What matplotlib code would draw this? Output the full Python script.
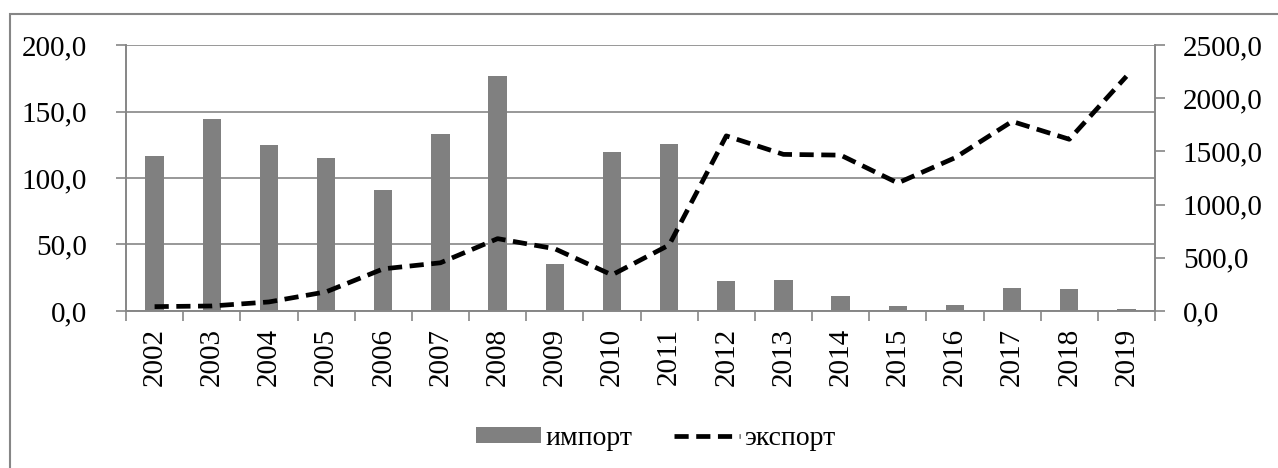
import matplotlib.pyplot as plt
from matplotlib.patches import Rectangle
from matplotlib.ticker import FuncFormatter, MultipleLocator
import numpy as np

years = [str(y) for y in range(2002, 2020)]
imports = [116.5, 144.6, 124.8, 114.7, 91.1, 132.9, 176.7, 35.2, 119.2,
           125.3, 22.3, 23.5, 10.9, 3.5, 4.8, 17.0, 16.5, 1.8]
exports = [41, 47, 85, 180, 396, 453, 680, 585, 339,
           620, 1646, 1472, 1465, 1203, 1440, 1782, 1614, 2206]

plt.rcParams['font.family'] = ['Liberation Serif', 'DejaVu Serif']
plt.rcParams['font.size'] = 21

fig = plt.figure(figsize=(12.78, 4.68), dpi=100)
ax = fig.add_axes([0.0986, 0.3355, 0.8052, 0.5683])
ax2 = ax.twinx()

grey = '#868686'
x = np.arange(len(years))

ax.set_axisbelow(True)
ax.yaxis.grid(True, color=grey, linewidth=1.2)
ax.bar(x, imports, width=0.32, color='#808080', label='импорт', zorder=2)
ax2.plot(x, exports, color='black', linewidth=3.4, dashes=(3.0, 1.6),
         label='экспорт', zorder=3)

ax.set_xlim(-0.5, len(years) - 0.5)
ax.set_ylim(0, 200)
ax2.set_ylim(0, 2500)
ax.yaxis.set_major_locator(MultipleLocator(50))
ax2.yaxis.set_major_locator(MultipleLocator(500))

fmt = FuncFormatter(lambda v, p: f'{v:.1f}'.replace('.', ','))
ax.yaxis.set_major_formatter(fmt)
ax2.yaxis.set_major_formatter(fmt)

ax.set_xticks(x)
ax.set_xticklabels(years, rotation=90)
ax.set_xticks(np.arange(-0.5, len(years)), minor=True)
ax.tick_params(axis='x', which='major', length=0, pad=12)
ax.tick_params(axis='x', which='minor', length=7, color=grey, width=1.2)
ax.tick_params(axis='y', length=7, color=grey, width=1.2, pad=21)
ax2.tick_params(axis='y', length=7, color=grey, width=1.2, pad=13)

for a in (ax, ax2):
    a.spines['top'].set_visible(False)
    for s in ('left', 'right', 'bottom'):
        a.spines[s].set_color(grey)
        a.spines[s].set_linewidth(1.2)

h1, l1 = ax.get_legend_handles_labels()
h2, l2 = ax2.get_legend_handles_labels()
fig.legend(h1 + h2, l1 + l2, loc='center', bbox_to_anchor=(0.513, 0.064),
           ncol=2, frameon=False, fontsize=20, handlelength=2.35,
           handleheight=0.5, columnspacing=1.5, handletextpad=0.15)

fig.patches.append(Rectangle((10 / 1278, -0.1), 1.2, 1 - 14 / 468 + 0.1,
                             transform=fig.transFigure, fill=False,
                             edgecolor=grey, linewidth=1.5))

fig.savefig('out.png', dpi=100)
